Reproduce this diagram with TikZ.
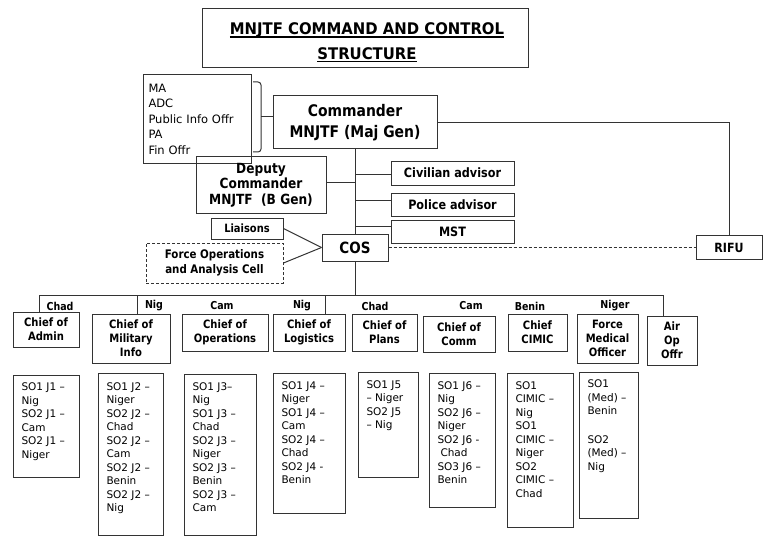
\documentclass[tikz,border=0pt]{standalone}
\usepackage{fontspec}
\setmainfont{DejaVu Sans}
\newfontfamily\narf[FakeStretch=0.87]{DejaVu Sans}
\newfontfamily\titf[FakeStretch=0.93]{DejaVu Sans}
\newcommand\ulx[1]{\setbox0\hbox{#1}\rlap{\rule[-3pt]{\wd0}{1.3pt}}\box0}
\begin{document}
\begin{tikzpicture}[x=1pt,y=-1pt,
  ln/.style={line width=1pt, draw=black!80},
  bx/.style={draw=black!80, line width=1pt, inner sep=0pt, align=center},
  chief/.style={bx, font=\narf\fontsize{11.5}{13.8}\selectfont\bfseries},
  lab/.style={inner sep=0pt, font=\narf\fontsize{10.9}{12}\selectfont\bfseries},
  lbox/.style={draw=black!80, line width=1pt, inner sep=0pt, anchor=north west},
  ltxt/.style={inner sep=0pt, anchor=north west, align=left, font=\fontsize{10.5}{13.5}\selectfont},
  dsh/.style={dash pattern=on 3pt off 2pt}]
\useasboundingbox (0,0) rectangle (767,540);
% title
\node[bx, minimum width=326pt, minimum height=59pt] (tbox) at (365,38.5) {};
\node[inner sep=0pt, align=center, font=\titf\fontsize{16}{24.5}\selectfont\bfseries] (title) at (367,42.5) {\ulx{MNJTF COMMAND AND CONTROL}\\\ulx{STRUCTURE}};
% staff
\node[draw=black!80, line width=1pt, minimum width=108pt, minimum height=88pt, text width=97pt, inner xsep=5.5pt, inner ysep=0pt, align=left, font=\fontsize{11.5}{15.5}\selectfont] (staff) at (197,119) {MA\\ADC\\Public Info Offr\\PA\\Fin Offr};
% commander
\node[bx, minimum width=164pt, minimum height=53pt, font=\narf\fontsize{16}{21.5}\selectfont\bfseries] (cmd) at (355,122.5) {Commander\\MNJTF (Maj Gen)};
\draw[ln, rounded corners=3pt] (253,82) -| (261,152) -- (253,152);
\coordinate (brk) at (261,117);
\draw[ln] (brk) -- (brk -| cmd.west);
% deputy
\node[bx, minimum width=130pt, minimum height=56pt, font=\narf\fontsize{14}{15.5}\selectfont\bfseries] (dep) at (261,185) {Deputy\\Commander\\MNJTF~~(B Gen)};
% advisors
\node[bx, minimum width=123pt, minimum height=24pt, font=\narf\fontsize{12.9}{14}\selectfont\bfseries] (civ) at (452.5,173) {Civilian advisor};
\node[bx, minimum width=123pt, minimum height=23pt, font=\narf\fontsize{12.9}{14}\selectfont\bfseries] (pol) at (452.5,204.5) {Police advisor};
\node[bx, minimum width=123pt, minimum height=23pt, font=\narf\fontsize{12.9}{14}\selectfont\bfseries] (mst) at (452.5,231.5) {MST};
% liaisons, fop, cos, rifu
\node[bx, minimum width=72pt, minimum height=21pt, font=\narf\fontsize{11.4}{12}\selectfont\bfseries] (lia) at (247,228.5) {Liaisons};
\node[bx, dsh, minimum width=137pt, minimum height=40pt, font=\narf\fontsize{11.8}{15.5}\selectfont\bfseries] (fop) at (214.5,263) {Force Operations\\and Analysis Cell};
\node[bx, minimum width=66pt, minimum height=27pt, font=\narf\fontsize{15.5}{16}\selectfont\bfseries] (cos) at (355,247.5) {COS};
\node[bx, minimum width=66pt, minimum height=24pt, font=\narf\fontsize{12.7}{14}\selectfont\bfseries] (rifu) at (729,247.5) {RIFU};
% connectors
\draw[ln] (cmd.south) -- (cos.north);
\draw[ln] (cmd.east) -| (rifu.north);
\draw[ln, dsh] (cos.east) -- (rifu.west);
\draw[ln] ([yshift=3pt]dep.east) -- ([yshift=3pt]dep.east -| cos.north);
\coordinate (t1) at (355,174);
\coordinate (t2) at (355,200);
\coordinate (t3) at (355,226);
\draw[ln] (t1) -- (t1 -| civ.west);
\draw[ln] (t2) -- (t2 -| pol.west);
\draw[ln] (t3) -- (t3 -| mst.west);
\draw[ln] (lia.east) -- (cos.west);
\draw[ln] (fop.east) -- (cos.west);
% chief boxes
\node[chief, minimum width=66pt, minimum height=35pt] (adm) at (46,329.5) {Chief of\\Admin};
\node[chief, minimum width=78pt, minimum height=49pt] (mil) at (131,338.5) {Chief of\\Military\\Info};
\node[chief, minimum width=86pt, minimum height=37pt] (ops) at (225,332.5) {Chief of\\Operations};
\node[chief, minimum width=72pt, minimum height=37pt] (log) at (309,332.5) {Chief of\\Logistics};
\node[chief, minimum width=65pt, minimum height=37pt] (pla) at (384.5,332.5) {Chief of\\Plans};
\node[chief, minimum width=72pt, minimum height=36pt] (com) at (459,334) {Chief of\\Comm};
\node[chief, minimum width=59pt, minimum height=37pt] (cim) at (537.5,332.5) {Chief\\CIMIC};
\node[chief, minimum width=61pt, minimum height=49pt] (med) at (607.5,338.5) {Force\\Medical\\Officer};
\node[chief, minimum width=50pt, minimum height=49pt] (air) at (672,340.5) {Air\\Op\\Offr};
% bus
\coordinate (b1) at (39,295);
\coordinate (b2) at (137,295);
\coordinate (b3) at (325,295);
\coordinate (b4) at (663,295);
\draw[ln] (cos.south) -- (cos.south |- b1);
\draw[ln] (b1) -- (b4);
\draw[ln] (b1) -- (b1 |- adm.north);
\draw[ln] (b2) -- (b2 |- mil.north);
\draw[ln] (b3) -- (b3 |- log.north);
\draw[ln] (b4) -- (b4 |- air.north);
% nation labels
\node[lab] (n1) at (60,306) {Chad};
\node[lab] (n2) at (154,306) {Nig};
\node[lab] (n3) at (222,306) {Cam};
\node[lab] (n4) at (302,306) {Nig};
\node[lab] (n5) at (375,306) {Chad};
\node[lab] (n6) at (471,306) {Cam};
\node[lab] (n7) at (530,306) {Benin};
\node[lab] (n8) at (615,306) {Niger};
% lists
\node[lbox, minimum width=66pt, minimum height=102pt] (l1) at (13,375) {};
\node[ltxt] (l1t) at ([shift={(8.3pt,-8pt)}]l1.north west) {SO1 J1 –\\Nig\\SO2 J1 –\\Cam\\SO2 J1 –\\Niger};
\node[lbox, minimum width=65pt, minimum height=162pt] (l2) at (98,373) {};
\node[ltxt] (l2t) at ([shift={(8.3pt,-9.5pt)}]l2.north west) {SO1 J2 –\\Niger\\SO2 J2 –\\Chad\\SO2 J2 –\\Cam\\SO2 J2 –\\Benin\\SO2 J2 –\\Nig};
\node[lbox, minimum width=72pt, minimum height=161pt] (l3) at (184,374) {};
\node[ltxt] (l3t) at ([shift={(8.3pt,-8.5pt)}]l3.north west) {SO1 J3–\\Nig\\SO1 J3 –\\Chad\\SO2 J3 –\\Niger\\SO2 J3 –\\Benin\\SO2 J3 –\\Cam};
\node[lbox, minimum width=72pt, minimum height=140pt] (l4) at (273,373) {};
\node[ltxt] (l4t) at ([shift={(8.3pt,-8.5pt)}]l4.north west) {SO1 J4 –\\Niger\\SO1 J4 –\\Cam\\SO2 J4 –\\Chad\\SO2 J4 -\\Benin};
\node[lbox, minimum width=60pt, minimum height=105pt] (l5) at (358,372) {};
\node[ltxt] (l5t) at ([shift={(8.3pt,-8.5pt)}]l5.north west) {SO1 J5\\– Niger\\SO2 J5\\– Nig};
\node[lbox, minimum width=66pt, minimum height=134pt] (l6) at (429,373) {};
\node[ltxt] (l6t) at ([shift={(8.3pt,-8.5pt)}]l6.north west) {SO1 J6 –\\Nig\\SO2 J6 –\\Niger\\SO2 J6 -\\\hspace*{3pt}Chad\\SO3 J6 –\\Benin};
\node[lbox, minimum width=66pt, minimum height=154pt] (l7) at (507,373) {};
\node[ltxt] (l7t) at ([shift={(8.3pt,-8.5pt)}]l7.north west) {SO1\\CIMIC –\\Nig\\SO1\\CIMIC –\\Niger\\SO2\\CIMIC –\\Chad};
\node[lbox, minimum width=59pt, minimum height=146pt] (l8) at (579,372) {};
\node[ltxt] (l8t) at ([shift={(8.3pt,-8pt)}]l8.north west) {SO1\\(Med) –\\Benin\\[15pt]SO2\\(Med) –\\Nig};
\end{tikzpicture}
\end{document}
